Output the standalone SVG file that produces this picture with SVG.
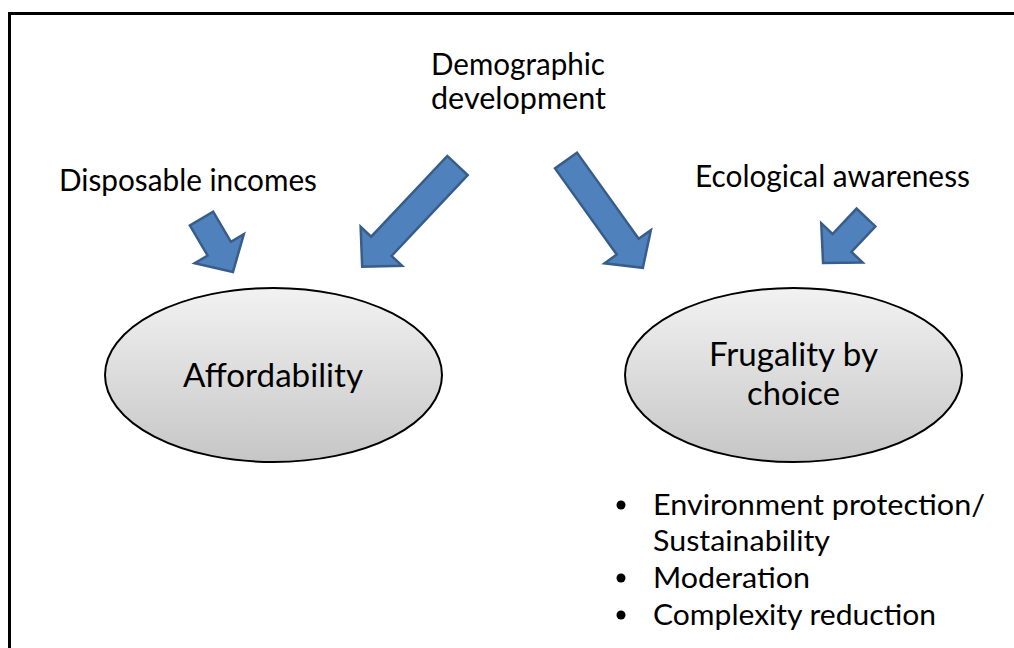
<svg xmlns="http://www.w3.org/2000/svg" width="1014" height="648" viewBox="0 0 1014 648">
<defs>
<linearGradient id="g" x1="0" y1="0" x2="0" y2="1">
<stop offset="0" stop-color="#f2f2f2"/>
<stop offset="1" stop-color="#c6c6c6"/>
</linearGradient>
<style>
text{font-family:Lato,"Open Sans","Liberation Sans",sans-serif;fill:#000}
.lbl{font-size:30px}
.big{font-size:33px}
.bul{font-size:29px}
.ell{fill:url(#g);stroke:#000;stroke-width:2}
.arr{fill:#4f81bd;stroke:#385d8a;stroke-width:2.5;stroke-linejoin:miter}
</style>
</defs>
<rect x="9.5" y="13.5" width="1010" height="640" fill="#fff" stroke="#000" stroke-width="3"/>
<g id="connectors">
<polygon class="arr" transform="translate(201.5,218.5) rotate(59.5)" points="0,-13.5 35,-13.5 35,-28.5 62,0 35,28.5 35,13.5 0,13.5"/>
<polygon class="arr" transform="translate(457.5,165.5) rotate(133.3)" points="0,-14 111,-14 111,-28.5 139,0 111,28.5 111,14 0,14"/>
<polygon class="arr" transform="translate(566,160.5) rotate(54.4)" points="0,-13.5 106,-13.5 106,-28.5 132,0 106,28.5 106,13.5 0,13.5"/>
<polygon class="arr" transform="translate(866,217.5) rotate(133.4)" points="0,-13 35,-13 35,-28.5 62.5,0 35,28.5 35,13 0,13"/>
</g>
<g id="demographic">
<text class="lbl" x="431" y="75" textLength="174" lengthAdjust="spacingAndGlyphs">Demographic</text>
<text class="lbl" x="431" y="109" textLength="175" lengthAdjust="spacingAndGlyphs">development</text>
</g>
<g id="disposable">
<text class="lbl" x="59" y="191" textLength="258" lengthAdjust="spacingAndGlyphs">Disposable incomes</text>
</g>
<g id="ecological">
<text class="lbl" x="695" y="187" textLength="275" lengthAdjust="spacingAndGlyphs">Ecological awareness</text>
</g>
<g id="affordability">
<ellipse class="ell" cx="273.5" cy="375" rx="168.5" ry="87"/>
<text class="big" x="183" y="387" textLength="180" lengthAdjust="spacingAndGlyphs">Affordability</text>
</g>
<g id="frugality">
<ellipse class="ell" cx="793.5" cy="375" rx="168.5" ry="87"/>
<text class="big" x="709" y="366" textLength="169" lengthAdjust="spacingAndGlyphs">Frugality by</text>
<text class="big" x="747" y="405" textLength="93" lengthAdjust="spacingAndGlyphs">choice</text>
</g>
<g id="bullets">
<circle cx="621" cy="505" r="4.5"/>
<circle cx="621" cy="578" r="4.5"/>
<circle cx="621" cy="615" r="4.5"/>
<text class="bul" x="653" y="515" textLength="332" lengthAdjust="spacingAndGlyphs">Environment protection/</text>
<text class="bul" x="653" y="551" textLength="177" lengthAdjust="spacingAndGlyphs">Sustainability</text>
<text class="bul" x="653" y="588" textLength="157" lengthAdjust="spacingAndGlyphs">Moderation</text>
<text class="bul" x="653" y="625" textLength="283" lengthAdjust="spacingAndGlyphs">Complexity reduction</text>
</g>
</svg>
